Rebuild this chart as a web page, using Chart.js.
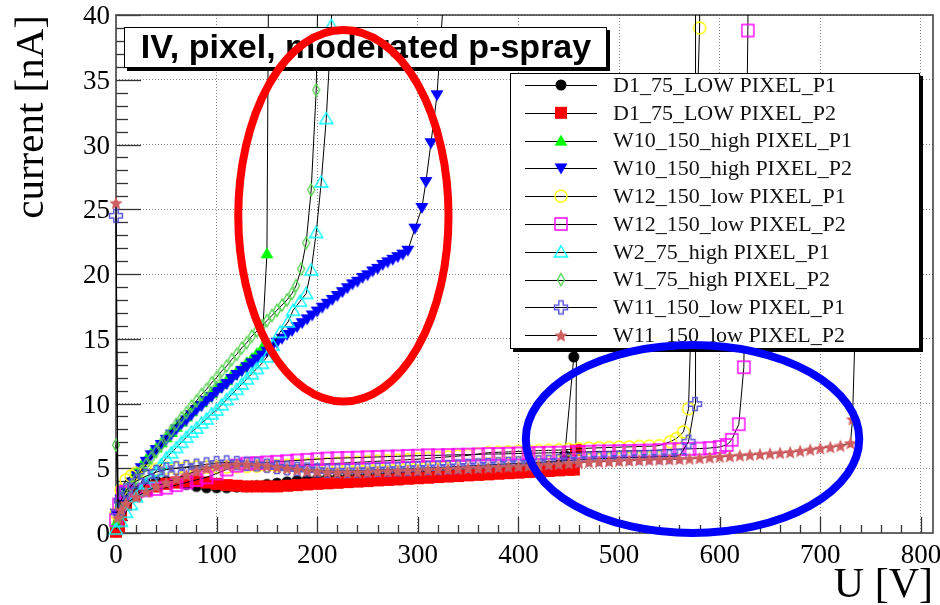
<!DOCTYPE html>
<html><head><meta charset="utf-8">
<script src="https://cdn.jsdelivr.net/npm/chart.js@4.4.1/dist/chart.umd.min.js"></script>
<style>html,body{margin:0;padding:0;background:#fff;}canvas{display:block;}</style>
</head><body>
<canvas id="c" width="940" height="605"></canvas>
<script>
// ---------------- data: [U (V), I (nA)] ----------------
const d1_75_low_p1 = [[0,0.1],[3,1.0],[5,1.8],[10,2.7],[20,3.4],[30,3.8],[40,4.0],[50,4.0],[60,3.9],[70,3.75],[80,3.6],[90,3.5],[100,3.5],[110,3.5],[120,3.55],[130,3.6],[140,3.65],[150,3.75],[160,3.85],[170,3.95],[180,4.05],[190,4.1],[200,4.15],[210,4.2],[220,4.24],[230,4.28],[240,4.32],[250,4.35],[260,4.39],[270,4.43],[280,4.47],[290,4.51],[300,4.55],[310,4.6],[320,4.64],[330,4.68],[340,4.72],[350,4.76],[360,4.8],[370,4.84],[380,4.88],[390,4.92],[400,4.96],[410,5.02],[420,5.08],[430,5.15],[440,5.25],[446,6.0],[455,13.6],[457,30]];
const d1_75_low_p2 = [[0,0.1],[3,0.5],[5,1.4],[10,2.2],[20,2.9],[30,3.3],[40,3.6],[50,3.8],[60,3.9],[70,4.0],[80,4.0],[90,3.9],[100,3.8],[110,3.7],[120,3.65],[130,3.6],[140,3.6],[150,3.6],[160,3.6],[170,3.65],[180,3.7],[190,3.75],[200,3.8],[210,3.84],[220,3.88],[230,3.93],[240,3.97],[250,4.01],[260,4.06],[270,4.1],[280,4.14],[290,4.19],[300,4.23],[310,4.27],[320,4.32],[330,4.36],[340,4.4],[350,4.45],[360,4.49],[370,4.53],[380,4.58],[390,4.62],[400,4.66],[410,4.71],[420,4.75],[430,4.79],[440,4.84],[450,4.88],[455,4.9],[457,6.4],[459,30]];
const w10_150_high_p1 = [[0,0.8],[5,2.4],[10,3.3],[15,4.0],[20,4.7],[25,5.2],[30,5.7],[35,6.2],[40,6.6],[45,7.0],[50,7.4],[55,7.8],[60,8.2],[65,8.6],[70,9.0],[75,9.4],[80,9.8],[85,10.1],[90,10.5],[95,10.8],[100,11.2],[105,11.5],[110,11.8],[115,12.2],[120,12.5],[125,12.8],[130,13.2],[135,13.5],[140,13.9],[145,14.3],[150,21.6],[152,48]];
const w10_150_high_p2 = [[0,1.5],[5,2.6],[10,3.3],[15,3.9],[20,4.5],[25,5.0],[30,5.5],[35,6.0],[40,6.4],[45,6.8],[50,7.2],[55,7.6],[60,8.0],[65,8.4],[70,8.7],[75,9.1],[80,9.5],[85,9.8],[90,10.2],[95,10.5],[100,10.9],[105,11.2],[110,11.5],[115,11.9],[120,12.2],[125,12.5],[130,12.8],[135,13.1],[140,13.4],[145,13.7],[150,14.0],[155,14.4],[160,14.7],[165,15.0],[170,15.3],[175,15.6],[180,15.9],[185,16.2],[190,16.5],[195,16.8],[200,17.1],[205,17.4],[210,17.7],[215,18.0],[220,18.3],[225,18.6],[230,18.9],[235,19.2],[240,19.4],[245,19.7],[250,19.9],[255,20.2],[260,20.4],[265,20.7],[270,20.9],[275,21.1],[280,21.3],[285,21.5],[290,21.8],[297,23.5],[304,25.1],[308,27.1],[313,30.1],[319,33.8],[327,43]];
const w12_150_low_p1 = [[0,1.5],[5,3.3],[10,4.1],[15,4.4],[20,4.6],[30,4.8],[40,4.9],[50,5.0],[60,5.0],[70,5.05],[80,5.1],[90,5.1],[100,5.1],[110,5.1],[120,5.12],[130,5.14],[140,5.16],[150,5.18],[160,5.2],[170,5.22],[180,5.25],[190,5.28],[200,5.3],[210,5.34],[220,5.38],[230,5.42],[240,5.46],[250,5.5],[260,5.54],[270,5.58],[280,5.62],[290,5.66],[300,5.7],[310,5.76],[320,5.82],[330,5.88],[340,5.94],[350,6.0],[360,6.1],[370,6.2],[380,6.23],[390,6.26],[400,6.3],[410,6.33],[420,6.36],[430,6.38],[440,6.4],[450,6.45],[460,6.5],[470,6.55],[480,6.58],[490,6.6],[500,6.63],[510,6.65],[520,6.68],[530,6.7],[540,6.75],[551,7.05],[557,7.3],[564,7.8],[569,9.6],[580,39],[581,50]];
const w12_150_low_p2 = [[0,1.0],[3,2.2],[7,3.1],[10,3.2],[20,3.25],[30,3.3],[40,3.4],[50,3.5],[60,3.7],[70,3.9],[80,4.1],[90,4.3],[100,4.6],[110,4.9],[120,5.2],[130,5.35],[140,5.4],[150,5.45],[160,5.5],[170,5.55],[180,5.6],[190,5.65],[200,5.7],[210,5.75],[220,5.78],[230,5.8],[240,5.82],[250,5.85],[260,5.87],[270,5.9],[280,5.92],[290,5.95],[300,5.97],[310,6.0],[320,6.0],[330,6.02],[340,6.04],[350,6.05],[360,6.07],[370,6.1],[380,6.1],[390,6.12],[400,6.14],[410,6.15],[420,6.17],[430,6.19],[440,6.2],[450,6.22],[460,6.25],[470,6.27],[480,6.3],[490,6.3],[500,6.32],[510,6.34],[520,6.35],[530,6.37],[540,6.4],[550,6.45],[560,6.48],[570,6.5],[580,6.52],[590,6.56],[600,6.65],[607,6.8],[612,7.2],[619,8.4],[624,12.8],[628,38.8],[629,50]];
const w2_75_high_p1 = [[0,0.3],[5,0.9],[10,1.6],[15,2.2],[20,2.8],[25,3.3],[30,3.8],[35,4.3],[40,4.8],[45,5.3],[50,5.8],[55,6.2],[60,6.6],[65,7.0],[70,7.4],[75,7.8],[80,8.1],[85,8.5],[90,8.8],[95,9.2],[100,9.5],[105,9.9],[110,10.3],[115,10.7],[120,11.1],[125,11.5],[130,11.9],[135,12.3],[140,12.7],[145,13.1],[150,13.6],[156,14.5],[163,15.5],[171,16.3],[176,17.2],[183,17.9],[189,18.5],[194,20.3],[199,23.2],[204,27.1],[209,32.0],[214,39.2],[216,48]];
const w1_75_high_p2 = [[0,6.8],[3,1.2],[5,1.9],[10,2.9],[15,3.6],[20,4.2],[25,4.8],[30,5.3],[35,5.8],[40,6.3],[45,6.8],[50,7.4],[55,7.9],[60,8.4],[65,8.9],[70,9.3],[75,9.8],[80,10.2],[85,10.7],[90,11.1],[95,11.6],[100,12.0],[105,12.5],[110,12.9],[115,13.4],[120,13.8],[125,14.3],[130,14.7],[135,15.2],[140,15.6],[145,16.0],[150,16.4],[155,16.8],[160,17.2],[165,17.6],[170,18.0],[175,18.5],[179,19.1],[184,20.4],[189,22.4],[194,26.5],[199,34.2],[202,48]];
const w11_150_low_p1 = [[0,24.5],[2,1.6],[5,2.5],[10,3.3],[20,4.0],[30,4.4],[40,4.7],[50,4.9],[60,5.0],[70,5.1],[80,5.2],[90,5.3],[100,5.4],[110,5.45],[120,5.4],[130,5.35],[140,5.3],[150,5.2],[160,5.1],[170,5.0],[180,4.95],[190,4.9],[200,4.85],[210,4.8],[220,4.8],[230,4.8],[240,4.82],[250,4.85],[260,4.88],[270,4.9],[280,4.93],[290,4.96],[300,5.0],[310,5.03],[320,5.06],[330,5.1],[340,5.14],[350,5.18],[360,5.22],[370,5.26],[380,5.3],[390,5.34],[400,5.38],[410,5.42],[420,5.46],[430,5.5],[440,5.55],[450,5.6],[460,5.65],[470,5.7],[480,5.73],[490,5.76],[500,5.8],[510,5.82],[520,5.84],[530,5.86],[540,5.88],[550,5.9],[560,5.95],[569,7.05],[575.5,9.96],[576,50]];
const w11_150_low_p2 = [[0,25.5],[2,1.2],[5,1.8],[10,2.3],[20,2.8],[30,3.2],[40,3.6],[50,3.9],[60,4.2],[70,4.5],[80,4.8],[90,5.0],[100,5.15],[110,5.25],[120,5.3],[130,5.3],[140,5.25],[150,5.2],[160,5.1],[170,5.0],[180,4.9],[190,4.8],[200,4.75],[210,4.7],[220,4.68],[230,4.68],[240,4.7],[250,4.72],[260,4.75],[270,4.78],[280,4.8],[290,4.83],[300,4.86],[310,4.89],[320,4.92],[330,4.95],[340,4.98],[350,5.01],[360,5.04],[370,5.07],[380,5.1],[390,5.13],[400,5.16],[410,5.2],[420,5.25],[430,5.3],[440,5.35],[450,5.4],[460,5.45],[470,5.5],[480,5.52],[490,5.55],[500,5.58],[510,5.61],[520,5.64],[530,5.66],[540,5.68],[550,5.7],[560,5.72],[570,5.75],[580,5.8],[590,5.85],[600,5.9],[610,5.95],[620,6.0],[630,6.05],[640,6.1],[650,6.15],[660,6.2],[670,6.25],[680,6.35],[690,6.45],[700,6.55],[710,6.65],[720,6.75],[730,6.95],[732,8.8],[740,30]];

const seriesLabels = ['D1_75_LOW PIXEL_P1','D1_75_LOW PIXEL_P2','W10_150_high PIXEL_P1','W10_150_high PIXEL_P2','W12_150_low PIXEL_P1','W12_150_low PIXEL_P2','W2_75_high PIXEL_P1','W1_75_high PIXEL_P2','W11_150_low PIXEL_P1','W11_150_low PIXEL_P2'];
const seriesData = [d1_75_low_p1, d1_75_low_p2, w10_150_high_p1, w10_150_high_p2, w12_150_low_p1, w12_150_low_p2, w2_75_high_p1, w1_75_high_p2, w11_150_low_p1, w11_150_low_p2];
const seriesColors = ['#000000','#ff0000','#00ff00','#0000ff','#ffff00','#ff00ff','#00ffff','rgb(89,212,84)','rgb(89,84,216)','rgb(207,94,97)'];
const seriesMarkers = ['fcircle','fsquare','ftriup','ftridown','ocircle','osquare','otriup','odiamond','ocross','fstar'];

const xTickLabels = [0,100,200,300,400,500,600,700,800];
const yTickLabels = [0,5,10,15,20,25,30,35,40];

// annotation ellipses (data coordinates)
const annotationEllipses = [
  {cx: 226, cy: 24.5, rx: 104.5, ry: 14.35, color: '#ff0000'},
  {cx: 573, cy: 7.26, rx: 165.7, ry: 7.26, color: '#0000ff'}
];

// ---------------- markers ----------------
function makeMarker(kind, color) {
  const c = document.createElement('canvas');
  c.width = 18; c.height = 18;
  const g = c.getContext('2d');
  const x = 9, y = 9;
  g.fillStyle = color; g.strokeStyle = color; g.lineWidth = 1.4;
  g.beginPath();
  switch (kind) {
    case 'fcircle': g.arc(x, y, 5.5, 0, Math.PI*2); g.fill(); break;
    case 'fsquare': g.fillRect(x-6, y-6, 12, 12); break;
    case 'ftriup': g.moveTo(x, y-6); g.lineTo(x+6.5, y+5); g.lineTo(x-6.5, y+5); g.closePath(); g.fill(); break;
    case 'ftridown': g.moveTo(x, y+6); g.lineTo(x+6.5, y-5); g.lineTo(x-6.5, y-5); g.closePath(); g.fill(); break;
    case 'ocircle': g.arc(x, y, 6, 0, Math.PI*2); g.stroke(); break;
    case 'osquare': g.rect(x-6, y-6, 12, 12); g.stroke(); break;
    case 'otriup': g.moveTo(x, y-6); g.lineTo(x+6.5, y+5); g.lineTo(x-6.5, y+5); g.closePath(); g.stroke(); break;
    case 'odiamond': g.moveTo(x, y-6); g.lineTo(x+3.5, y); g.lineTo(x, y+6); g.lineTo(x-3.5, y); g.closePath(); g.stroke(); break;
    case 'ocross': {
      const a = 2.2, L = 6.5;
      const p = [[-a,-L],[a,-L],[a,-a],[L,-a],[L,a],[a,a],[a,L],[-a,L],[-a,a],[-L,a],[-L,-a],[-a,-a]];
      p.forEach((q,i)=>{ if(i===0) g.moveTo(x+q[0], y+q[1]); else g.lineTo(x+q[0], y+q[1]); });
      g.closePath(); g.stroke(); break;
    }
    case 'fstar': {
      for (let i = 0; i < 10; i++) {
        const r = i % 2 === 0 ? 7 : 3.2;
        const ang = -Math.PI/2 + i*Math.PI/5;
        const px = x + r*Math.cos(ang), py = y + 0.8 + r*Math.sin(ang);
        if (i === 0) g.moveTo(px, py); else g.lineTo(px, py);
      }
      g.closePath(); g.fill(); break;
    }
  }
  return c;
}

const SERIF = "'Liberation Serif', 'Times New Roman', serif";
const SANS = "'Liberation Sans', Arial, sans-serif";

const datasets = seriesData.map((arr, i) => ({
  label: seriesLabels[i],
  data: arr.map(p => ({x: p[0], y: p[1]})),
  showLine: true,
  borderColor: '#000',
  borderWidth: 1,
  tension: 0,
  pointStyle: makeMarker(seriesMarkers[i], seriesColors[i]),
  pointRadius: 5,
  pointHoverRadius: 5,
  order: -i,
  clip: {left: 12, top: 0, right: 0, bottom: 12}
}));

function shadowBox(ctx, x, y, w, h, sh) {
  ctx.fillStyle = '#000';
  ctx.fillRect(x + sh, y + sh, w, h);
  ctx.fillStyle = '#fff';
  ctx.fillRect(x, y, w, h);
  ctx.strokeStyle = '#000';
  ctx.lineWidth = 1;
  ctx.strokeRect(x + 0.5, y + 0.5, w - 1, h - 1);
}

const rootPlugin = {
  id: 'rootStyle',
  beforeDatasetsDraw(chart) {
    const {ctx, chartArea: a, scales: {x, y}} = chart;
    ctx.save();
    ctx.strokeStyle = '#333';
    ctx.lineWidth = 1.3;
    for (let v = 0; v <= x.max + 1e-6; v += 20) {
      const px = Math.round(x.getPixelForValue(v)) + 0.5;
      const len = (Math.round(v) % 100 === 0) ? 16 : 8;
      ctx.beginPath(); ctx.moveTo(px, a.bottom); ctx.lineTo(px, a.bottom - len); ctx.stroke();
    }
    for (let v = 0; v <= y.max + 1e-6; v += 1) {
      const py = Math.round(y.getPixelForValue(v)) + 0.5;
      const len = (v % 5 === 0) ? 25 : 12;
      ctx.beginPath(); ctx.moveTo(a.left, py); ctx.lineTo(a.left + len, py); ctx.stroke();
    }
    ctx.strokeStyle = '#444';
    ctx.lineWidth = 1.6;
    ctx.strokeRect(a.left, a.top, a.right - a.left, a.bottom - a.top);
    ctx.restore();
  },
  afterDraw(chart) {
    const {ctx, scales: {x, y}} = chart;
    ctx.save();
    // title pave
    shadowBox(ctx, 124, 27, 483, 41, 3);
    ctx.fillStyle = '#000';
    ctx.font = 'bold 34px ' + SANS;
    ctx.textAlign = 'center';
    ctx.textBaseline = 'middle';
    ctx.fillText('IV, pixel, moderated p-spray', 366, 49);
    // legend
    shadowBox(ctx, 510, 73, 410, 276, 3);
    ctx.font = '22px ' + SERIF;
    ctx.textAlign = 'left';
    chart.data.datasets.forEach((ds, i) => {
      const ry = 85 + i * 27.8;
      ctx.strokeStyle = '#000'; ctx.lineWidth = 1;
      ctx.beginPath(); ctx.moveTo(525, Math.round(ry) + 0.5); ctx.lineTo(597, Math.round(ry) + 0.5); ctx.stroke();
      const m = ds.pointStyle;
      ctx.drawImage(m, 561 - m.width / 2, ry - m.height / 2);
      ctx.fillStyle = '#111';
      ctx.fillText(ds.label, 613, ry + 1);
    });
    // annotation ellipses
    annotationEllipses.forEach(e => {
      const cx = x.getPixelForValue(e.cx), cy = y.getPixelForValue(e.cy);
      const rx = Math.abs(x.getPixelForValue(e.cx + e.rx) - cx);
      const ryp = Math.abs(y.getPixelForValue(e.cy + e.ry) - cy);
      ctx.strokeStyle = e.color; ctx.lineWidth = 8;
      ctx.beginPath(); ctx.ellipse(cx, cy, rx, ryp, 0, 0, Math.PI * 2); ctx.stroke();
    });
    ctx.restore();
  }
};

new Chart(document.getElementById('c'), {
  type: 'scatter',
  data: {datasets},
  options: {
    responsive: false,
    animation: false,
    events: [],
    layout: {padding: {top: 15, right: 7, left: 0, bottom: 0}},
    plugins: {legend: {display: false}, tooltip: {enabled: false}, title: {display: false}},
    scales: {
      x: {
        type: 'linear', min: 0, max: 812,
        afterFit: s => { s.height = 72; s.paddingLeft = 0; s.paddingRight = 0; },
        afterBuildTicks: s => { s.ticks = xTickLabels.map(v => ({value: v})); },
        ticks: {font: {family: SERIF, size: 27, lineHeight: 1}, color: '#000', padding: 9, maxRotation: 0, autoSkip: false, includeBounds: false},
        grid: {color: '#888', lineWidth: 1, drawTicks: false},
        border: {display: false, dash: [1, 2]},
        title: {display: true, text: 'U [V]', align: 'end', color: '#000', font: {family: SERIF, size: 42, lineHeight: 0.9}, padding: 0}
      },
      y: {
        type: 'linear', min: 0, max: 40,
        afterFit: s => { s.width = 116; s.paddingTop = 0; s.paddingBottom = 0; },
        afterBuildTicks: s => { s.ticks = yTickLabels.map(v => ({value: v})); },
        ticks: {font: {family: SERIF, size: 27, lineHeight: 1}, color: '#000', padding: 6, labelOffset: 2, autoSkip: false, includeBounds: false},
        grid: {color: '#888', lineWidth: 1, drawTicks: false},
        border: {display: false, dash: [1, 2]},
        title: {display: true, text: 'current [nA]', align: 'end', color: '#000', font: {family: SERIF, size: 41, lineHeight: 1.2}, padding: {top: 8, bottom: 0}}
      }
    }
  },
  plugins: [rootPlugin]
});
</script>
</body></html>
